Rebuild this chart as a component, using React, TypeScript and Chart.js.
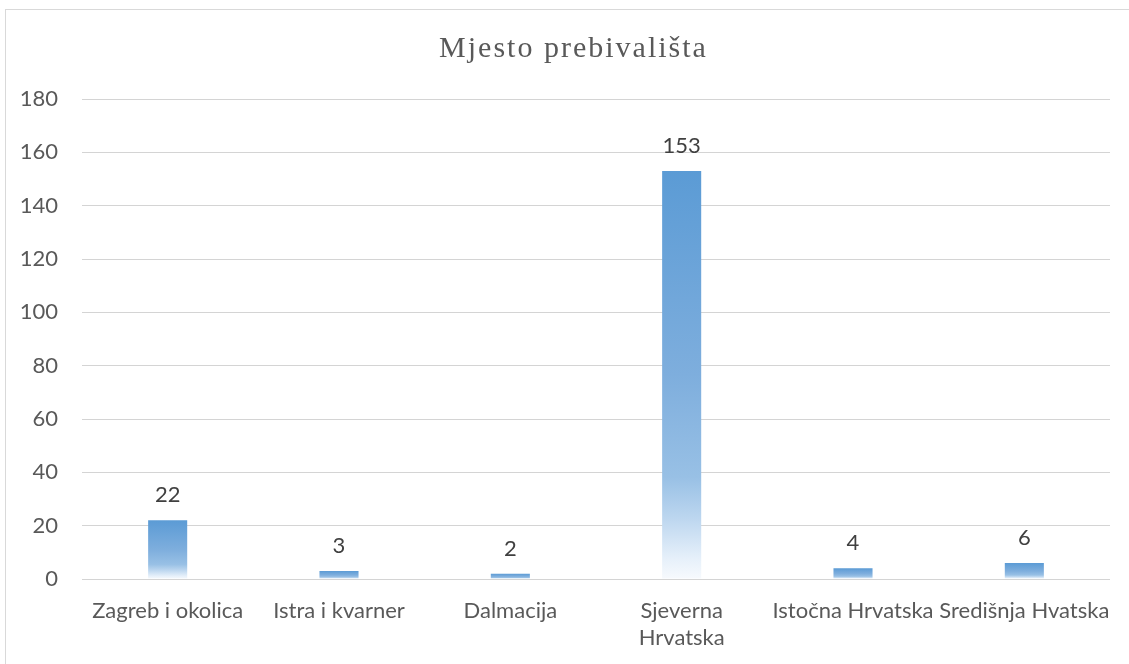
import React, { useEffect, useRef } from "react";
import { Chart, registerables } from "chart.js";

Chart.register(...registerables);

const TITLE = "Mjesto prebivališta";
const categories: (string | string[])[] = [
  "Zagreb i okolica",
  "Istra i kvarner",
  "Dalmacija",
  ["Sjeverna", "Hrvatska"],
  "Istočna Hrvatska",
  "Središnja Hvatska",
];
const values = [22, 3, 2, 153, 4, 6];
const yTicks = [0, 20, 40, 60, 80, 100, 120, 140, 160, 180];

const FONT = "Lato";

const titlePlugin = {
  id: "customTitle",
  afterDraw(chart: any) {
    const ctx = chart.ctx;
    ctx.save();
    ctx.font = `30px "Liberation Serif"`;
    ctx.fillStyle = "#595959";
    ctx.textAlign = "center";
    ctx.textBaseline = "middle";
    try { (ctx as any).letterSpacing = "2px"; } catch (e) {}
    ctx.fillText(TITLE, 567.5, 39);
    ctx.restore();
  },
};

const labelPlugin = {
  id: "barLabels",
  afterDatasetsDraw(chart: any) {
    const ctx = chart.ctx;
    const meta = chart.getDatasetMeta(0);
    ctx.save();
    ctx.font = `22px ${FONT}`;
    ctx.fillStyle = "#404040";
    ctx.textAlign = "center";
    ctx.textBaseline = "alphabetic";
    meta.data.forEach((bar: any, i: number) => {
      ctx.fillText(String(values[i]), bar.x, bar.y - 18);
    });
    ctx.restore();
  },
};

export default function App() {
  const ref = useRef<HTMLCanvasElement>(null);
  useEffect(() => {
    document.body.style.margin = "0";
    document.body.style.overflow = "hidden";
    const canvas = ref.current!;
    const chart = new Chart(canvas, {
      type: "bar",
      data: {
        labels: categories,
        datasets: [
          {
            data: values,
            categoryPercentage: 1,
            barPercentage: 0.228,
            backgroundColor: (c: any) => {
              const ch = c.chart;
              if (c.type !== "data" || !ch.chartArea || !ch.scales.y) return "#5B9BD5";
              const y = ch.scales.y;
              const top = y.getPixelForValue(c.raw);
              const bottom = y.getPixelForValue(0);
              if (!isFinite(top) || !isFinite(bottom) || bottom - top < 0.5) return "#5B9BD5";
              const g = ch.ctx.createLinearGradient(0, top, 0, bottom);
              g.addColorStop(0, "#5B9BD5");
              g.addColorStop(0.5, "#7EAEDD");
              g.addColorStop(0.75, "#98C0E5");
              g.addColorStop(0.85, "#BCD6EF");
              g.addColorStop(0.95, "#E6F0FA");
              g.addColorStop(1, "#F7FAFD");
              return g;
            },
          },
        ],
      },
      options: {
        responsive: false,
        animation: false,
        layout: { padding: { top: 89, right: 19, left: 0, bottom: 0 } },
        plugins: { legend: { display: false }, title: { display: false }, tooltip: { enabled: false } },
        scales: {
          x: {
            grid: { display: false, drawTicks: false },
            border: { display: false },
            ticks: {
              font: { family: FONT, size: 22, lineHeight: 1.23 },
              color: "#595959",
              padding: 18,
              maxRotation: 0,
              autoSkip: false,
            },
            afterFit: (s: any) => { s.height = 85; },
          },
          y: {
            min: 0,
            max: 180,
            afterBuildTicks: (s: any) => { s.ticks = yTicks.map((v) => ({ value: v })); },
            grid: { color: "#d4d4d4", lineWidth: 1, drawTicks: false },
            border: { display: false },
            ticks: {
              font: { family: FONT, size: 22 },
              color: "#595959",
              padding: 24,
            },
            afterFit: (s: any) => { s.width = 76; },
          },
        },
      },
      plugins: [titlePlugin, labelPlugin],
    });
    return () => chart.destroy();
  }, []);
  return (
    <div
      style={{
        position: "absolute",
        left: 5,
        top: 9,
        width: 1124,
        height: 655,
        borderTop: "1px solid #d9d9d9",
        borderLeft: "1px solid #d9d9d9",
        boxSizing: "border-box",
        background: "#fff",
      }}
    >
      <canvas ref={ref} width={1123} height={654} style={{ display: "block" }} />
    </div>
  );
}
